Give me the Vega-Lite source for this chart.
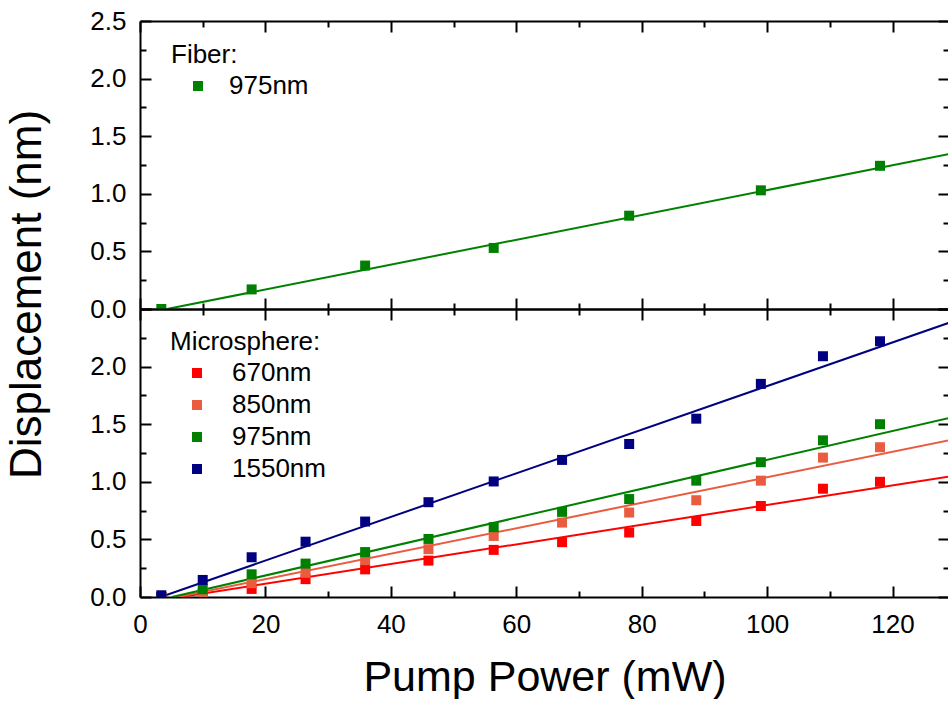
{
  "$schema": "https://vega.github.io/schema/vega-lite/v6.json",
  "padding": {"left": 5, "top": 8, "right": 0, "bottom": 0},
  "background": "white",
  "config": {
    "view": {"stroke": null},
    "font": "Liberation Sans",
    "axis": {"labelFont": "Liberation Sans", "labelColor": "black", "titleFont": "Liberation Sans", "titleColor": "black", "titleFontWeight": "normal", "domainColor": "black", "domainWidth": 2, "tickColor": "black", "tickWidth": 2, "grid": false, "labelFlush": false, "labelOverlap": false, "labelFontSize": 26}
  },
  "datasets": {
    "fiber": [
      {"power": 3.4, "disp": 0.0, "series": "975nm"},
      {"power": 17.8, "disp": 0.17, "series": "975nm"},
      {"power": 35.9, "disp": 0.377, "series": "975nm"},
      {"power": 56.4, "disp": 0.53, "series": "975nm"},
      {"power": 78.0, "disp": 0.81, "series": "975nm"},
      {"power": 99.0, "disp": 1.03, "series": "975nm"},
      {"power": 118.0, "disp": 1.243, "series": "975nm"}
    ],
    "fiberFit": [
      {"power": 4.3, "disp": 0.0, "series": "975nm"},
      {"power": 129, "disp": 1.345, "series": "975nm"}
    ],
    "micro": [
      {"power": 3.4, "disp": 0.0, "series": "670nm"},
      {"power": 10.0, "disp": 0.02, "series": "670nm"},
      {"power": 17.8, "disp": 0.07, "series": "670nm"},
      {"power": 26.4, "disp": 0.155, "series": "670nm"},
      {"power": 35.9, "disp": 0.24, "series": "670nm"},
      {"power": 46.0, "disp": 0.316, "series": "670nm"},
      {"power": 56.4, "disp": 0.409, "series": "670nm"},
      {"power": 67.3, "disp": 0.476, "series": "670nm"},
      {"power": 78.0, "disp": 0.56, "series": "670nm"},
      {"power": 88.7, "disp": 0.66, "series": "670nm"},
      {"power": 99.0, "disp": 0.79, "series": "670nm"},
      {"power": 108.9, "disp": 0.94, "series": "670nm"},
      {"power": 118.0, "disp": 1.0, "series": "670nm"},
      {"power": 3.4, "disp": 0.0, "series": "850nm"},
      {"power": 10.0, "disp": 0.035, "series": "850nm"},
      {"power": 17.8, "disp": 0.119, "series": "850nm"},
      {"power": 26.4, "disp": 0.21, "series": "850nm"},
      {"power": 35.9, "disp": 0.32, "series": "850nm"},
      {"power": 46.0, "disp": 0.415, "series": "850nm"},
      {"power": 56.4, "disp": 0.53, "series": "850nm"},
      {"power": 67.3, "disp": 0.646, "series": "850nm"},
      {"power": 78.0, "disp": 0.733, "series": "850nm"},
      {"power": 88.7, "disp": 0.84, "series": "850nm"},
      {"power": 99.0, "disp": 1.01, "series": "850nm"},
      {"power": 108.9, "disp": 1.21, "series": "850nm"},
      {"power": 118.0, "disp": 1.3, "series": "850nm"},
      {"power": 3.4, "disp": 0.0, "series": "975nm"},
      {"power": 10.0, "disp": 0.067, "series": "975nm"},
      {"power": 17.8, "disp": 0.197, "series": "975nm"},
      {"power": 26.4, "disp": 0.29, "series": "975nm"},
      {"power": 35.9, "disp": 0.39, "series": "975nm"},
      {"power": 46.0, "disp": 0.504, "series": "975nm"},
      {"power": 56.4, "disp": 0.606, "series": "975nm"},
      {"power": 67.3, "disp": 0.739, "series": "975nm"},
      {"power": 78.0, "disp": 0.85, "series": "975nm"},
      {"power": 88.7, "disp": 1.01, "series": "975nm"},
      {"power": 99.0, "disp": 1.17, "series": "975nm"},
      {"power": 108.9, "disp": 1.36, "series": "975nm"},
      {"power": 118.0, "disp": 1.5, "series": "975nm"},
      {"power": 3.4, "disp": 0.015, "series": "1550nm"},
      {"power": 10.0, "disp": 0.148, "series": "1550nm"},
      {"power": 17.8, "disp": 0.345, "series": "1550nm"},
      {"power": 26.4, "disp": 0.48, "series": "1550nm"},
      {"power": 35.9, "disp": 0.655, "series": "1550nm"},
      {"power": 46.0, "disp": 0.823, "series": "1550nm"},
      {"power": 56.4, "disp": 1.003, "series": "1550nm"},
      {"power": 67.3, "disp": 1.19, "series": "1550nm"},
      {"power": 78.0, "disp": 1.328, "series": "1550nm"},
      {"power": 88.7, "disp": 1.548, "series": "1550nm"},
      {"power": 99.0, "disp": 1.85, "series": "1550nm"},
      {"power": 108.9, "disp": 2.09, "series": "1550nm"},
      {"power": 118.0, "disp": 2.22, "series": "1550nm"}
    ],
    "microFit": [
      {"power": 6.5, "disp": 0.0, "series": "670nm"},
      {"power": 129, "disp": 1.046, "series": "670nm"},
      {"power": 6.0, "disp": 0.0, "series": "850nm"},
      {"power": 129, "disp": 1.36, "series": "850nm"},
      {"power": 5.1, "disp": 0.0, "series": "975nm"},
      {"power": 129, "disp": 1.554, "series": "975nm"},
      {"power": 3.3, "disp": 0.0, "series": "1550nm"},
      {"power": 129, "disp": 2.38, "series": "1550nm"}
    ]
  },
  "vconcat": [
    {
      "width": 809,
      "height": 288,
      "layer": [
        {
          "data": {"name": "fiberFit"},
          "mark": {"type": "line", "strokeWidth": 2, "clip": true, "color": "#008000"},
          "encoding": {
            "x": {"field": "power", "type": "quantitative", "scale": {"domain": [0, 129], "nice": false, "zero": false},
              "axis": {"orient": "bottom", "values": [0, 10, 20, 30, 40, 50, 60, 70, 80, 90, 100, 110, 120], "labels": false, "title": null,
                "tickSize": {"condition": {"test": "datum.value % 20 == 0", "value": -11}, "value": -6}}},
            "y": {"field": "disp", "type": "quantitative", "scale": {"domain": [0, 2.5], "nice": false},
              "axis": {"orient": "left", "values": [0, 0.25, 0.5, 0.75, 1, 1.25, 1.5, 1.75, 2, 2.25, 2.5], "title": null,
                "labelExpr": "datum.value % 0.5 == 0 ? format(datum.value, '.1f') : ''", "labelPadding": 25,
                "tickSize": {"condition": {"test": "datum.value % 0.5 == 0", "value": -11}, "value": -6}}}
          }
        },
        {
          "data": {"name": "fiber"},
          "mark": {"type": "square", "size": 100, "opacity": 1, "clip": true},
          "encoding": {
            "x": {"field": "power", "type": "quantitative", "axis": null},
            "y": {"field": "disp", "type": "quantitative", "axis": null},
            "fill": {"field": "series", "type": "nominal", "scale": {"domain": ["975nm"], "range": ["#008000"]},
              "legend": {"title": "Fiber:", "orient": "none", "legendX": 31, "legendY": 21, "padding": 0,
                "titleFontSize": 26, "titleFont": "Liberation Sans", "titleFontWeight": "normal", "titleColor": "black", "titlePadding": 5,
                "labelFontSize": 26, "labelFont": "Liberation Sans", "labelColor": "black",
                "symbolType": "square", "symbolSize": 100, "symbolStrokeWidth": 0, "symbolOffset": 14, "labelOffset": 18, "rowPadding": 6}}
          }
        },
        {
          "data": {"name": "fiber"},
          "mark": {"type": "point", "opacity": 0},
          "encoding": {
            "x": {"field": "power", "type": "quantitative",
              "axis": {"orient": "top", "values": [0, 10, 20, 30, 40, 50, 60, 70, 80, 90, 100, 110, 120], "labels": false, "title": null,
                "tickSize": {"condition": {"test": "datum.value % 20 == 0", "value": -11}, "value": -6}}},
            "y": {"field": "disp", "type": "quantitative",
              "axis": {"orient": "right", "values": [0, 0.25, 0.5, 0.75, 1, 1.25, 1.5, 1.75, 2, 2.25, 2.5], "labels": false, "title": null,
                "tickSize": {"condition": {"test": "datum.value % 0.5 == 0", "value": -11}, "value": -6}}}
          }
        }
      ],
      "resolve": {"axis": {"x": "independent", "y": "independent"}}
    },
    {
      "width": 809,
      "height": 288,
      "layer": [
        {
          "data": {"name": "microFit"},
          "mark": {"type": "line", "strokeWidth": 2, "clip": true},
          "encoding": {
            "x": {"field": "power", "type": "quantitative", "scale": {"domain": [0, 129], "nice": false, "zero": false},
              "axis": {"orient": "bottom", "values": [0, 10, 20, 30, 40, 50, 60, 70, 80, 90, 100, 110, 120], "title": "Pump Power (mW)",
                "titleFontSize": 43, "titlePadding": 14,
                "labelExpr": "datum.value % 20 == 0 ? datum.label : ''", "labelPadding": 25,
                "tickSize": {"condition": {"test": "datum.value % 20 == 0", "value": -11}, "value": -6}}},
            "y": {"field": "disp", "type": "quantitative", "scale": {"domain": [0, 2.5], "nice": false},
              "axis": {"orient": "left", "values": [0, 0.25, 0.5, 0.75, 1, 1.25, 1.5, 1.75, 2, 2.25, 2.5], "title": "Displacement (nm)",
                "titleFontSize": 44, "titleX": -91, "titleY": -15,
                "labelExpr": "datum.value % 0.5 == 0 && datum.value <= 2 ? format(datum.value, '.1f') : ''", "labelPadding": 25,
                "tickSize": {"condition": {"test": "datum.value % 0.5 == 0", "value": -11}, "value": -6}}},
            "detail": {"field": "series", "type": "nominal"},
            "stroke": {"field": "series", "type": "nominal", "scale": {"domain": ["1550nm", "975nm", "850nm", "670nm"], "range": ["#000080", "#008000", "#E95C40", "#FF0000"]}, "legend": null}
          }
        },
        {
          "data": {"name": "micro"},
          "mark": {"type": "square", "size": 100, "opacity": 1, "clip": true},
          "encoding": {
            "x": {"field": "power", "type": "quantitative", "axis": null},
            "y": {"field": "disp", "type": "quantitative", "axis": null},
            "fill": {"field": "series", "type": "nominal", "scale": {"domain": ["670nm", "850nm", "975nm", "1550nm"], "range": ["#FF0000", "#E95C40", "#008000", "#000080"]},
              "legend": {"title": "Microsphere:", "orient": "none", "legendX": 30, "legendY": 20, "padding": 0,
                "titleFontSize": 26, "titleFont": "Liberation Sans", "titleFontWeight": "normal", "titleColor": "black", "titlePadding": 5,
                "labelFontSize": 26, "labelFont": "Liberation Sans", "labelColor": "black",
                "symbolType": "square", "symbolSize": 100, "symbolStrokeWidth": 0, "symbolOffset": 14, "labelOffset": 22, "rowPadding": 6}}
          }
        },
        {
          "data": {"name": "micro"},
          "mark": {"type": "point", "opacity": 0},
          "encoding": {
            "x": {"field": "power", "type": "quantitative",
              "axis": {"orient": "top", "values": [0, 10, 20, 30, 40, 50, 60, 70, 80, 90, 100, 110, 120], "labels": false, "title": null,
                "tickSize": {"condition": {"test": "datum.value % 20 == 0", "value": -11}, "value": -6}}},
            "y": {"field": "disp", "type": "quantitative",
              "axis": {"orient": "right", "values": [0, 0.25, 0.5, 0.75, 1, 1.25, 1.5, 1.75, 2, 2.25, 2.5], "labels": false, "title": null,
                "tickSize": {"condition": {"test": "datum.value % 0.5 == 0", "value": -11}, "value": -6}}}
          }
        }
      ],
      "resolve": {"axis": {"x": "independent", "y": "independent"}}
    }
  ],
  "spacing": 0,
  "bounds": "flush",
  "resolve": {"scale": {"fill": "independent", "stroke": "independent", "y": "independent", "x": "independent"}, "legend": {"fill": "independent", "stroke": "independent"}}
}
